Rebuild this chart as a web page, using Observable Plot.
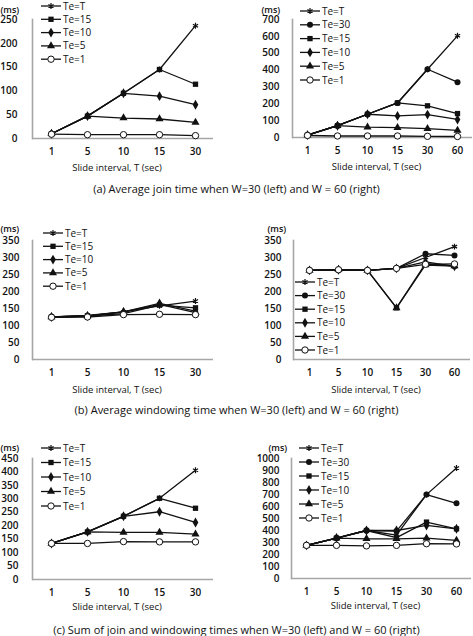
<!DOCTYPE html>
<html><head><meta charset="utf-8">
<script src="https://cdn.jsdelivr.net/npm/d3@7"></script>
<script src="https://cdn.jsdelivr.net/npm/@observablehq/plot@0.6"></script>
<style>
body{margin:0;background:#fff;font-family:"Open Sans",sans-serif;}
#wrap{position:relative;width:473px;height:636px;overflow:hidden;}
.panel{position:absolute;}
.cap{position:absolute;left:0;width:473px;text-align:center;font-size:11px;color:#111;white-space:nowrap;line-height:12px;}
</style></head><body>
<div id="wrap"></div>
<script>
// categorias del eje x
const xs30 = ["1", "5", "10", "15", "30"]
const xs60 = ["1", "5", "10", "15", "30", "60"]
const names30 = ["Te=T", "Te=15", "Te=10", "Te=5", "Te=1"]
const names60 = ["Te=T", "Te=30", "Te=15", "Te=10", "Te=5", "Te=1"]

// (a) join time, W=30
const joinW30 = [
  [10, 47, 95, 145, 237],
  [10, 47, 95, 145, 114],
  [10, 47, 95, 89, 71],
  [10, 47, 43, 41, 34],
  [9, 8, 8, 8, 6],
]
// (a) join time, W=60
const joinW60 = [
  [14, 70, 138, 205, 405, 603],
  [14, 70, 138, 205, 405, 328],
  [14, 70, 138, 205, 188, 142],
  [14, 70, 138, 128, 136, 107],
  [14, 70, 62, 59, 53, 42],
  [12, 9, 9, 9, 7, 6],
]
// (b) windowing time, W=30
const winW30 = [
  [125, 130, 140, 158, 172],
  [125, 128, 135, 160, 152],
  [125, 128, 140, 165, 142],
  [125, 128, 140, 162, 138],
  [124, 125, 132, 133, 132],
]
// (b) windowing time, W=60
const winW60 = [
  [262, 264, 262, 268, 300, 332],
  [262, 264, 262, 268, 311, 306],
  [262, 264, 262, 152, 282, 275],
  [262, 264, 262, 268, 287, 274],
  [262, 264, 262, 152, 278, 275],
  [262, 264, 262, 268, 280, 281],
]
// (c) suma, W=30
const sumW30 = [
  [134, 177, 235, 302, 406],
  [134, 177, 235, 302, 265],
  [134, 177, 235, 252, 212],
  [134, 177, 175, 175, 169],
  [134, 134, 141, 140, 140],
]
// (c) suma, W=60
const sumW60 = [
  [276, 337, 400, 362, 699, 920],
  [276, 337, 400, 395, 699, 627],
  [276, 337, 400, 340, 470, 414],
  [276, 337, 400, 400, 442, 414],
  [276, 337, 331, 331, 337, 318],
  [276, 276, 272, 276, 290, 288],
]

const captions = [
  "(a) Average join time when W=30 (left) and W = 60 (right)",
  "(b) Average windowing time when W=30 (left) and W = 60 (right)",
  "(c) Sum of join and windowing times when W=30 (left) and W = 60 (right)",
]

const symOf = {"Te=T": "asterisk", "Te=30": "circle", "Te=15": "square", "Te=10": "diamond", "Te=5": "triangle", "Te=1": "circle"}
const d3Sym = {asterisk: d3.symbolAsterisk, circle: d3.symbolCircle, square: d3.symbolSquare, diamond: d3.symbolDiamond, triangle: d3.symbolTriangle}
const ink = "#111"
const axisGray = "#a6a6a6"

function tidy(xs, names, vals) {
  let rows = []
  names.forEach((s, i) => xs.forEach((x, j) => rows.push({x: x, s: s, v: vals[i][j]})))
  return rows
}

function panel(o) {
  let rows = tidy(o.xs, o.names, o.vals)
  let chart = Plot.plot({
    width: o.w,
    height: o.h,
    marginLeft: o.ml,
    marginRight: o.mr,
    marginTop: o.mt,
    marginBottom: o.mb,
    style: {fontFamily: "Open Sans", color: ink, background: "transparent", overflow: "visible"},
    x: {type: "point", domain: o.xs, padding: 0.5},
    y: {domain: [0, o.yMax]},
    symbol: {domain: o.names, range: o.names.map(n => symOf[n])},
    marks: [
      Plot.frame({anchor: "left", stroke: axisGray, strokeWidth: 1.6}),
      Plot.ruleY([0], {stroke: axisGray, strokeWidth: 1.6}),
      Plot.axisY({ticks: d3.range(0, o.yMax + 1, o.yStep), tickFormat: d => String(d), tickSize: 0, tickPadding: o.pad, label: null, fontSize: 10, fontWeight: 600}),
      Plot.axisX({tickSize: 0, tickPadding: 9, label: null, fontSize: 10, fontWeight: 600}),
      Plot.line(rows, {x: "x", y: "v", z: "s", stroke: ink, strokeWidth: 1.3}),
      Plot.dot(rows.filter(d => d.s == "Te=T"), {x: "x", y: "v", symbol: "s", stroke: ink, r: 2.8, strokeWidth: 1.2}),
      Plot.dot(rows.filter(d => d.s != "Te=T" && d.s != "Te=1"), {x: "x", y: "v", symbol: "s", fill: ink, r: 3}),
      Plot.dot(rows.filter(d => d.s == "Te=1"), {x: "x", y: "v", symbol: "s", fill: "white", stroke: ink, r: 3.2, strokeWidth: 1}),
      Plot.text(["(ms)"], {frameAnchor: "top-left", dx: o.msx, dy: o.msy, textAnchor: "start", fontSize: 9, fontWeight: 600}),
      Plot.text(["Slide interval, T (sec)"], {frameAnchor: "bottom", dx: -6, dy: o.tdy, fontSize: 9.5}),
    ],
  })

  // leyenda a mano
  let lg = d3.select(chart).append("g").attr("text-anchor", "start")
  o.names.forEach((n, i) => {
    let y = o.ly + i * o.ldy
    let g = lg.append("g")
    g.append("line").attr("x1", o.lx).attr("x2", o.lx + 20).attr("y1", y).attr("y2", y)
      .attr("stroke", ink).attr("stroke-width", 1.3)
    let p = g.append("path").attr("transform", `translate(${o.lx + 10},${y})`)
    if (n == "Te=T") p.attr("d", d3.symbol(d3Sym.asterisk, Math.PI * 2.8 * 2.8)()).attr("stroke", ink).attr("fill", "none").attr("stroke-width", 1.2)
    else if (n == "Te=1") p.attr("d", d3.symbol(d3Sym.circle, Math.PI * 3.2 * 3.2)()).attr("stroke", ink).attr("fill", "white")
    else p.attr("d", d3.symbol(d3Sym[symOf[n]], Math.PI * 9)()).attr("fill", ink)
    g.append("text").attr("x", o.lx + 22).attr("y", y).attr("dy", "0.35em")
      .attr("font-size", 10).attr("font-weight", 500).attr("fill", ink).text(n)
  })

  let div = d3.select("#wrap").append("div").attr("class", "panel")
    .style("left", o.left + "px").style("top", o.top + "px")
  div.append(() => chart)
}

panel({xs: xs30, names: names30, vals: joinW30, yMax: 250, yStep: 50,
  left: 0, top: 0, w: 236, h: 200, ml: 32, mr: 23, mt: 19, mb: 62, pad: 15,
  msx: -32, msy: -13, tdy: 32, lx: 41, ly: 6, ldy: 13.3})
panel({xs: xs60, names: names60, vals: joinW60, yMax: 700, yStep: 100,
  left: 236, top: 0, w: 237, h: 200, ml: 56, mr: 1, mt: 19, mb: 63, pad: 13,
  msx: -31, msy: -13, tdy: 32, lx: 64, ly: 11, ldy: 13.8})
panel({xs: xs30, names: names30, vals: winW30, yMax: 350, yStep: 50,
  left: 0, top: 200, w: 236, h: 215, ml: 32, mr: 23, mt: 40, mb: 56, pad: 13,
  msx: -32, msy: -15, tdy: 33, lx: 43, ly: 33, ldy: 13.3})
panel({xs: xs60, names: names60, vals: winW60, yMax: 350, yStep: 50,
  left: 236, top: 200, w: 237, h: 215, ml: 57, mr: 3, mt: 40, mb: 56, pad: 12,
  msx: -26, msy: -15, tdy: 33, lx: 59, ly: 82, ldy: 13.6})
panel({xs: xs30, names: names30, vals: sumW30, yMax: 450, yStep: 50,
  left: 0, top: 415, w: 236, h: 221, ml: 32, mr: 23, mt: 43, mb: 57, pad: 14,
  msx: -32, msy: -14, tdy: 30, lx: 41, ly: 33, ldy: 14.5})
panel({xs: xs60, names: names60, vals: sumW60, yMax: 1000, yStep: 100,
  left: 236, top: 415, w: 237, h: 221, ml: 55, mr: 2, mt: 43, mb: 58, pad: 12,
  msx: -23, msy: -14, tdy: 30, lx: 63, ly: 33, ldy: 14})

// titulos de cada fila
const capY = [183, 404, 624]
captions.forEach((c, i) => {
  d3.select("#wrap").append("div").attr("class", "cap").style("top", capY[i] + "px").text(c)
})
</script>
</body></html>
